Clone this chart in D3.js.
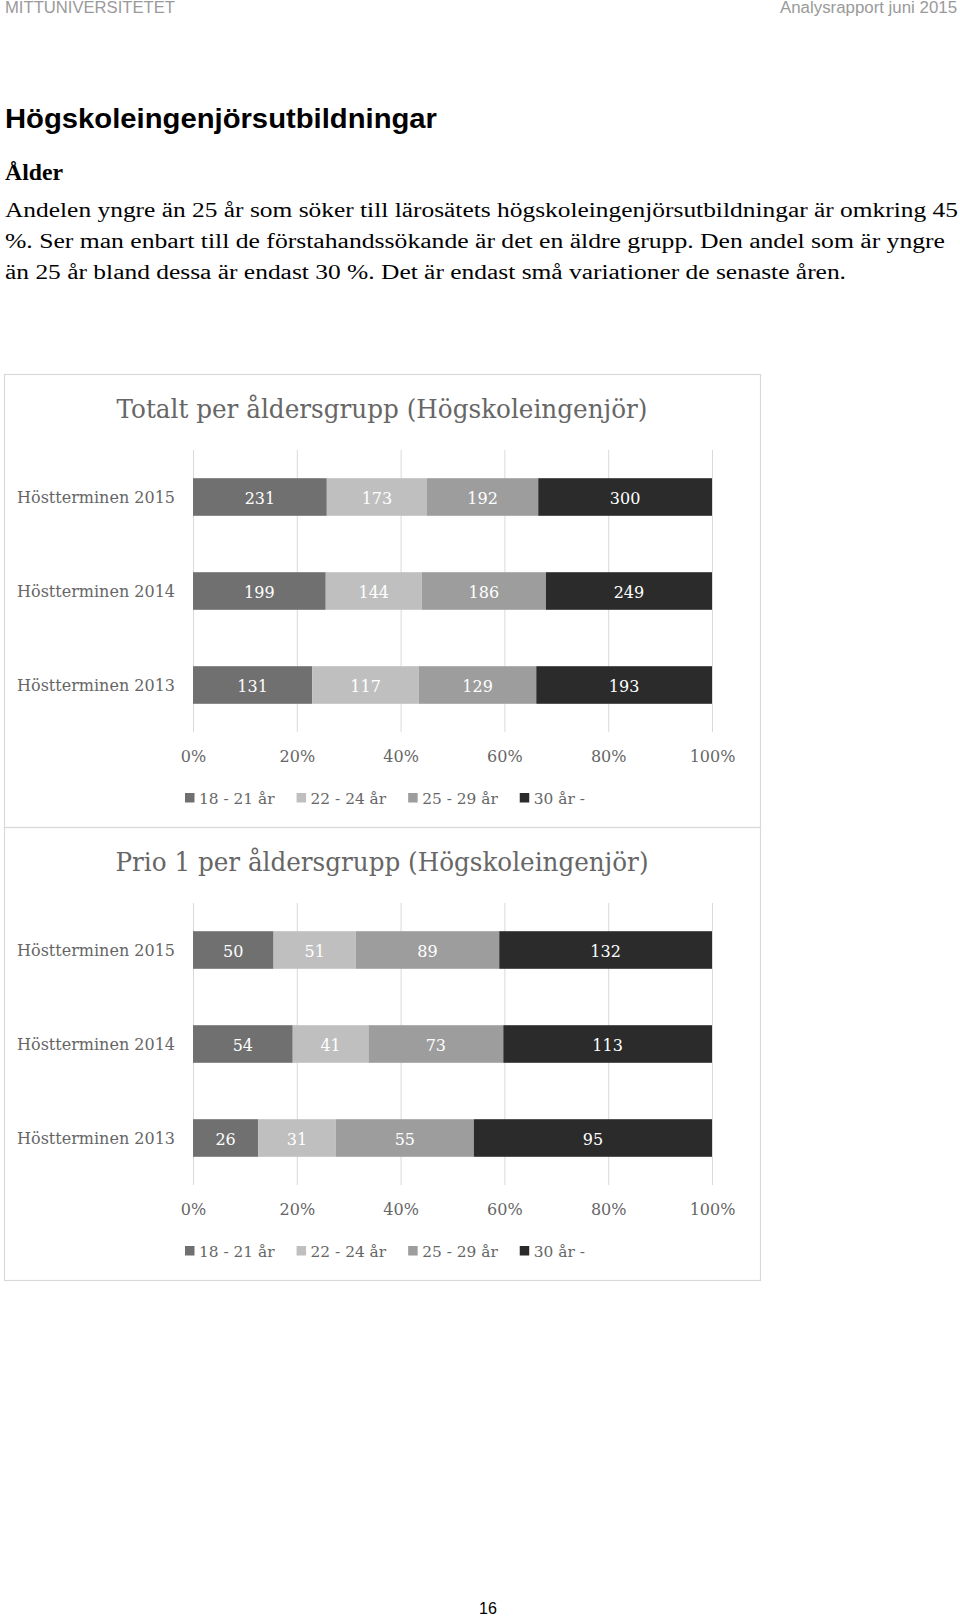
<!DOCTYPE html>
<html><head><meta charset="utf-8">
<script src="https://cdn.jsdelivr.net/npm/d3@7"></script>
<style>html,body{margin:0;padding:0;background:#fff;}svg{display:block;}</style>
</head><body>
<script>
// ---- DATA ----
const categories = ["Höstterminen 2015", "Höstterminen 2014", "Höstterminen 2013"];
const ageGroups = ["18 - 21 år", "22 - 24 år", "25 - 29 år", "30 år -"];
const totalValues = [
  [231, 173, 192, 300],
  [199, 144, 186, 249],
  [131, 117, 129, 193]
];
const prio1Values = [
  [50, 51, 89, 132],
  [54, 41, 73, 113],
  [26, 31, 55, 95]
];
const tickValues = [0, 0.2, 0.4, 0.6, 0.8, 1];
const chartTitles = ["Totalt per åldersgrupp (Högskoleingenjör)", "Prio 1 per åldersgrupp (Högskoleingenjör)"];
const bodyLines = [
  "Andelen yngre än 25 år som söker till lärosätets högskoleingenjörsutbildningar är omkring 45",
  "%. Ser man enbart till de förstahandssökande är det en äldre grupp. Den andel som är yngre",
  "än 25 år bland dessa är endast 30 %. Det är endast små variationer de senaste åren."
];
const colors = ["#707070", "#bfbfbf", "#9d9d9d", "#2b2b2b"];

const W = 960, H = 1617;
const svg = d3.select("body").append("svg").attr("width", W).attr("height", H);
svg.append("rect").attr("width", W).attr("height", H).attr("fill", "#fff");

function fit(sel, w) {
  const n = sel.node();
  const len = n.getComputedTextLength();
  if (Math.abs(len - w) / w > 0.01) sel.attr("textLength", w).attr("lengthAdjust", "spacingAndGlyphs");
  return sel;
}

// ---- page header ----
fit(svg.append("text").attr("x", 5).attr("y", 13).attr("font-family", "Liberation Sans, Arial, sans-serif")
  .attr("font-size", 16).attr("fill", "#9a9a9a").text("MITTUNIVERSITETET"), 170);
fit(svg.append("text").attr("x", 957).attr("y", 13).attr("text-anchor", "end").attr("font-family", "Liberation Sans, Arial, sans-serif")
  .attr("font-size", 16).attr("fill", "#9a9a9a").text("Analysrapport juni 2015"), 177);

fit(svg.append("text").attr("x", 5).attr("y", 128).attr("font-family", "Liberation Sans, Arial, sans-serif")
  .attr("font-size", 27).attr("font-weight", "bold").attr("fill", "#000").text("Högskoleingenjörsutbildningar"), 432);

fit(svg.append("text").attr("x", 5).attr("y", 180).attr("font-family", "'Liberation Serif', serif")
  .attr("font-size", 23).attr("font-weight", "bold").attr("fill", "#000").text("Ålder"), 58);

const bodyWidths = [953, 940, 841];
bodyLines.forEach((t, i) => {
  fit(svg.append("text").attr("x", 5).attr("y", 217 + i * 31).attr("font-family", "'Liberation Serif', serif")
    .attr("font-size", 20).attr("fill", "#000").text(t), bodyWidths[i]);
});

svg.append("text").attr("x", 488).attr("y", 1614).attr("text-anchor", "middle")
  .attr("font-family", "Liberation Sans, Arial, sans-serif").attr("font-size", 16).attr("fill", "#000").text("16");

// ---- charts ----
const FONT = "'DejaVu Serif', serif";
const TXT = "#666666";
const x = d3.scaleLinear().domain([0, 1]).range([193, 712]);

function drawChart(top, title, titleWidth, values) {
  const g = svg.append("g");
  g.append("rect").attr("x", 4.5).attr("y", top + 0.5).attr("width", 756).attr("height", 453)
    .attr("fill", "#fff").attr("stroke", "#d9d9d9").attr("stroke-width", 1.2);

  fit(g.append("text").attr("x", 382).attr("y", top + 44).attr("text-anchor", "middle")
    .attr("font-family", FONT).attr("font-size", 26).attr("fill", TXT).text(title), titleWidth);

  const plotTop = top + 76, plotH = 282;
  const y = d3.scaleBand().domain(categories).range([plotTop, plotTop + plotH]).paddingInner(0.6).paddingOuter(0.3);

  // gridlines
  g.append("g").selectAll("line").data(tickValues).join("line")
    .attr("x1", d => x(d) + 0.5).attr("x2", d => x(d) + 0.5)
    .attr("y1", plotTop).attr("y2", plotTop + plotH)
    .attr("stroke", "#d9d9d9").attr("stroke-width", 1);

  // stacked data
  const rows = categories.map((c, i) => {
    const o = { cat: c };
    ageGroups.forEach((a, j) => o[a] = values[i][j]);
    return o;
  });
  const stacked = d3.stack().keys(ageGroups).offset(d3.stackOffsetExpand)(rows);

  const layers = g.append("g").selectAll("g").data(stacked).join("g")
    .attr("fill", (d, i) => colors[i]);
  layers.selectAll("rect").data(d => d).join("rect")
    .attr("x", d => x(d[0])).attr("width", d => x(d[1]) - x(d[0]))
    .attr("y", d => y(d.data.cat)).attr("height", y.bandwidth());

  const lbl = g.append("g").selectAll("g").data(stacked).join("g");
  lbl.selectAll("text").data(s => s.map(d => ({ d, key: s.key }))).join("text")
    .attr("x", o => (x(o.d[0]) + x(o.d[1])) / 2)
    .attr("y", o => y(o.d.data.cat) + y.bandwidth() / 2 + 1)
    .attr("dy", "0.36em").attr("text-anchor", "middle")
    .attr("font-family", FONT).attr("font-size", 16).attr("fill", "#fff")
    .text(o => o.d.data[o.key]);

  // category axis
  const yAxis = g.append("g").attr("transform", `translate(${x(0)},1)`)
    .call(d3.axisLeft(y).tickSize(0).tickPadding(18));
  yAxis.select(".domain").remove();
  yAxis.selectAll("text").attr("font-family", FONT).attr("font-size", 16).attr("fill", TXT);

  // value axis
  const xAxis = g.append("g").attr("transform", `translate(0,${top + 377})`)
    .call(d3.axisBottom(x).tickValues(tickValues).tickFormat(d3.format(".0%")).tickSize(0).tickPadding(0));
  xAxis.select(".domain").remove();
  xAxis.selectAll("text").attr("font-family", FONT).attr("font-size", 16).attr("fill", TXT);

  // legend
  const leg = g.append("g");
  let cx = 185;
  const ly = top + 424;
  ageGroups.forEach((a, i) => {
    leg.append("rect").attr("x", cx).attr("y", ly - 5).attr("width", 9.5).attr("height", 9.5).attr("fill", colors[i]);
    const t = leg.append("text").attr("x", cx + 14).attr("y", ly).attr("dy", "0.36em")
      .attr("font-family", FONT).attr("font-size", 15.4).attr("fill", TXT).text(a);
    cx += 14 + t.node().getComputedTextLength() + 22;
  });
}

drawChart(374, chartTitles[0], 531, totalValues);
drawChart(827, chartTitles[1], 533, prio1Values);
</script>
</body></html>
